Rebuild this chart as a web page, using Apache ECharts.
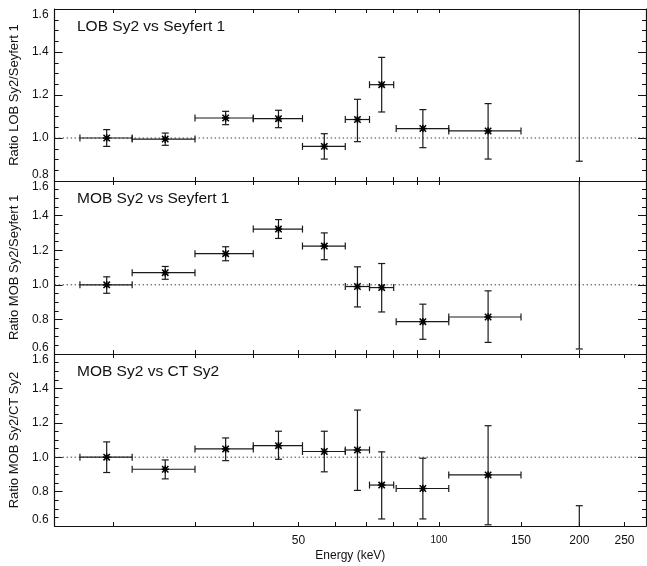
<!DOCTYPE html>
<html>
<head>
<meta charset="utf-8">
<script src="https://cdn.jsdelivr.net/npm/echarts@6/dist/echarts.min.js"></script>
<style>
html,body{margin:0;padding:0;background:#fff;}
#chart{width:647px;height:566px;}
</style>
</head>
<body>
<div id="chart"></div>
<script>
// ---- data ----
const energy = [19.4, 25.9, 34.9, 45.3, 56.8, 66.9, 75.4, 92.4, 127.5, 200];
const binLo  = [17, 22, 30, 40, 51, 63, 71, 81, 105, null];
const binHi  = [22, 30, 40, 51, 63, 71, 80, 105, 150, null];

const lobRatio = [1.000, 0.995, 1.093, 1.090, 0.961, 1.086, 1.248, 1.044, 1.033, null];
const lobLo    = [0.961, 0.966, 1.062, 1.048, 0.902, 0.983, 1.121, 0.955, 0.902, 0.892];
const lobHi    = [1.039, 1.023, 1.124, 1.129, 1.020, 1.180, 1.375, 1.132, 1.160, 2.000];

const mobRatio = [1.000, 1.070, 1.180, 1.322, 1.224, 0.990, 0.984, 0.787, 0.814, null];
const mobLo    = [0.951, 1.032, 1.139, 1.268, 1.145, 0.872, 0.843, 0.685, 0.667, 0.629];
const mobHi    = [1.046, 1.106, 1.220, 1.377, 1.300, 1.104, 1.123, 0.888, 0.965, 2.000];

const ctRatio = [1.000, 0.930, 1.048, 1.067, 1.033, 1.042, 0.838, 0.818, 0.897, null];
const ctLo    = [0.911, 0.874, 0.980, 0.988, 0.915, 0.807, 0.641, 0.641, 0.607, 0.200];
const ctHi    = [1.089, 0.984, 1.112, 1.151, 1.151, 1.274, 1.031, 0.994, 1.183, 0.718];

const panelTitles = ['LOB Sy2 vs Seyfert 1', 'MOB Sy2 vs Seyfert 1', 'MOB Sy2 vs CT Sy2'];
const yNames = ['Ratio LOB Sy2/Seyfert 1', 'Ratio MOB Sy2/Seyfert 1', 'Ratio MOB Sy2/CT Sy2'];
const yMins = [0.8, 0.6, 0.6];
const yMax = 1.6;
const xRange = [15, 278];
const refLevel = 1.0;
const xTicksUpper = [20, 30, 40, 50, 60, 70, 80, 90, 100, 200];
const xTicksLower = [20, 30, 40, 50, 60, 70, 80, 90, 100, 150, 200, 250];
const xLabels = [50, 100, 150, 200, 250];

const panels = [
  {ratio: lobRatio, lo: lobLo, hi: lobHi},
  {ratio: mobRatio, lo: mobLo, hi: mobHi},
  {ratio: ctRatio, lo: ctLo, hi: ctHi}
];

// ---- layout ----
const grids = [
  {left: 52, right: 1, top: 9, height: 172},
  {left: 52, right: 1, top: 181, height: 173},
  {left: 52, right: 1, top: 354, height: 172}
];

const FONT = 'Liberation Sans, Arial, Helvetica, sans-serif';
const INK = '#111';

const xAxes = [], yAxes = [], series = [], titles = [];

panels.forEach((p, k) => {
  const last = k === 2;
  const ticks = last ? xTicksLower : xTicksUpper;
  // bottom x axis
  xAxes.push({
    type: 'log', logBase: 10, gridIndex: k, min: xRange[0], max: xRange[1],
    position: 'bottom',
    axisLine: {show: true, onZero: false, lineStyle: {color: INK, width: 1.2}},
    axisTick: {show: true, inside: true, length: 4, customValues: ticks, lineStyle: {color: INK}},
    minorTick: {show: false},
    splitLine: {show: false},
    axisLabel: last ? {show: true, customValues: xLabels, margin: 9, fontSize: 12, color: INK, fontFamily: FONT,
      formatter: v => Math.round(v) === 100 ? '{s|100}' : String(Math.round(v)),
      rich: {s: {fontSize: 10, color: INK, fontFamily: FONT, padding: [0, 0, 4, 0]}}} : {show: false},
    name: last ? 'Energy (keV)' : '',
    nameLocation: 'middle', nameGap: 24,
    nameTextStyle: {fontSize: 12, color: INK, fontFamily: FONT}
  });
  // top x axis
  xAxes.push({
    type: 'log', logBase: 10, gridIndex: k, min: xRange[0], max: xRange[1],
    position: 'top',
    axisLine: {show: true, onZero: false, lineStyle: {color: INK, width: 1.2}},
    axisTick: {show: true, inside: true, length: 4, customValues: ticks, lineStyle: {color: INK}},
    splitLine: {show: false},
    axisLabel: {show: false}
  });
  // left y axis
  yAxes.push({
    type: 'value', gridIndex: k, min: yMins[k], max: yMax, interval: 0.2,
    position: 'left',
    axisLine: {show: true, onZero: false, lineStyle: {color: INK, width: 1.2}},
    axisTick: {show: true, inside: true, length: 8, lineStyle: {color: INK}},
    minorTick: {show: true, splitNumber: 4, length: 4, lineStyle: {color: INK}},
    splitLine: {show: false},
    axisLabel: {show: true, margin: 6, fontSize: 12, color: INK, fontFamily: FONT,
      formatter: v => v.toFixed(1),
      verticalAlignMinLabel: 'bottom', verticalAlignMaxLabel: 'top'},
    name: yNames[k], nameLocation: 'middle', nameGap: 30, nameRotate: 90,
    nameTextStyle: {fontSize: 13, color: INK, fontFamily: FONT}
  });
  // right y axis
  yAxes.push({
    type: 'value', gridIndex: k, min: yMins[k], max: yMax, interval: 0.2,
    position: 'right',
    axisLine: {show: true, onZero: false, lineStyle: {color: INK, width: 1.2}},
    axisTick: {show: true, inside: true, length: 8, lineStyle: {color: INK}},
    minorTick: {show: true, splitNumber: 4, length: 4, lineStyle: {color: INK}},
    splitLine: {show: false},
    axisLabel: {show: false}
  });

  // reference dotted line
  series.push({
    type: 'line', xAxisIndex: 2 * k, yAxisIndex: 2 * k, silent: true,
    symbol: 'none', data: [[xRange[0], refLevel], [xRange[1], refLevel]],
    lineStyle: {color: '#444', width: 1, type: [1.5, 2.5]}, z: 1
  });

  const ymin = yMins[k];
  // error bars and markers
  series.push({
    type: 'custom', xAxisIndex: 2 * k, yAxisIndex: 2 * k, clip: false, z: 3,
    data: energy.map((e, i) => [e, i]),
    renderItem: (params, api) => {
      const i = params.dataIndex;
      const x = energy[i];
      const r = p.ratio[i], lo = p.lo[i], hi = p.hi[i];
      const children = [];
      const st = {stroke: '#1a1a1a', lineWidth: 1.2};
      const line = (x1, y1, x2, y2, s) => children.push({type: 'line', shape: {x1, y1, x2, y2}, style: s || st});
      const cap = 3.5;
      // vertical error bar
      const loC = Math.max(lo, ymin), hiC = Math.min(hi, yMax);
      const pLo = api.coord([x, loC]), pHi = api.coord([x, hiC]);
      line(pLo[0], pLo[1], pHi[0], pHi[1]);
      if (lo >= ymin) line(pLo[0] - cap, pLo[1], pLo[0] + cap, pLo[1]);
      if (hi <= yMax) line(pHi[0] - cap, pHi[1], pHi[0] + cap, pHi[1]);
      if (r !== null && binLo[i] !== null) {
        const pl = api.coord([binLo[i], r]), ph = api.coord([binHi[i], r]);
        line(pl[0], pl[1], ph[0], ph[1]);
        line(pl[0], pl[1] - cap, pl[0], pl[1] + cap);
        line(ph[0], ph[1] - cap, ph[0], ph[1] + cap);
      }
      if (r !== null) {
        const c = api.coord([x, r]);
        const m = 3.2;
        const ms = {stroke: '#000', lineWidth: 1.5};
        line(c[0] - m, c[1] - m, c[0] + m, c[1] + m, ms);
        line(c[0] - m, c[1] + m, c[0] + m, c[1] - m, ms);
        line(c[0] - m - 0.5, c[1], c[0] + m + 0.5, c[1], ms);
        line(c[0], c[1] - m - 0.5, c[0], c[1] + m + 0.5, ms);
        children.push({type: 'rect', shape: {x: c[0] - 1.8, y: c[1] - 1.8, width: 3.6, height: 3.6}, style: {fill: '#000'}});
      }
      return {type: 'group', children};
    }
  });

  titles.push({
    text: panelTitles[k], left: 77, top: grids[k].top + 10, padding: 0,
    textStyle: {fontSize: 15.5, fontWeight: 'normal', color: INK, fontFamily: FONT}
  });
});

const chart = echarts.init(document.getElementById('chart'), null, {renderer: 'canvas'});
chart.setOption({
  animation: false,
  backgroundColor: '#fff',
  title: titles,
  grid: grids,
  xAxis: xAxes,
  yAxis: yAxes,
  series: series
});
</script>
</body>
</html>
